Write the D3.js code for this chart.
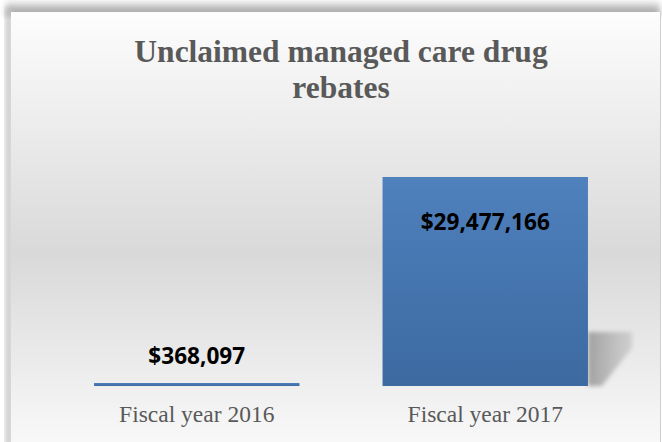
<!DOCTYPE html>
<html><head><meta charset="utf-8">
<script src="https://cdn.jsdelivr.net/npm/d3@7"></script>
<style>html,body{margin:0;padding:0;background:#fff;overflow:hidden}</style>
</head><body>
<script>
const categories = ["Fiscal year 2016", "Fiscal year 2017"];
const values = [368097, 29477166];
const valueLabels = ["$368,097", "$29,477,166"];
const titleLines = ["Unclaimed managed care drug", "rebates"];

const W = 662, H = 442;
const svg = d3.select("body").append("svg").attr("width", W).attr("height", H);
const defs = svg.append("defs");

const bg = defs.append("linearGradient").attr("id","bg").attr("x1",0).attr("y1",0).attr("x2",0).attr("y2",1);
bg.append("stop").attr("offset","0%").attr("stop-color","#fdfdfd");
bg.append("stop").attr("offset","55%").attr("stop-color","#d9d9d9");
bg.append("stop").attr("offset","100%").attr("stop-color","#fafafa");

const topSh = defs.append("linearGradient").attr("id","topsh").attr("x1",0).attr("y1",0).attr("x2",0).attr("y2",1);
topSh.append("stop").attr("offset","0%").attr("stop-color","#e6e6e6");
topSh.append("stop").attr("offset","100%").attr("stop-color","#8c8c8c");

const barG = defs.append("linearGradient").attr("id","barg").attr("x1",0).attr("y1",0).attr("x2",0).attr("y2",1);
barG.append("stop").attr("offset","0%").attr("stop-color","#4f81bd");
barG.append("stop").attr("offset","100%").attr("stop-color","#3c69a0");

const shG = defs.append("linearGradient").attr("id","shg").attr("x1",0).attr("y1",0).attr("x2",1).attr("y2",0);
shG.append("stop").attr("offset","0%").attr("stop-color","#999999").attr("stop-opacity",0.9);
shG.append("stop").attr("offset","100%").attr("stop-color","#b5b5b5").attr("stop-opacity",0.5);

const blur = defs.append("filter").attr("id","blur").attr("x","-20%").attr("y","-20%").attr("width","140%").attr("height","140%");
blur.append("feGaussianBlur").attr("stdDeviation",3);
const blur2 = defs.append("filter").attr("id","blur2").attr("x","-30%").attr("y","-30%").attr("width","160%").attr("height","160%");
blur2.append("feGaussianBlur").attr("stdDeviation",2);

// outer panel shadow and panel
svg.append("rect").attr("x",0).attr("y",0).attr("width",W).attr("height",H).attr("fill","#fff");
svg.append("rect").attr("x",6).attr("y",2).attr("width",654).attr("height",14).attr("fill","url(#topsh)").attr("filter","url(#blur)");
svg.append("rect").attr("x",6).attr("y",8).attr("width",6).attr("height",440).attr("fill","#bdbdbd").attr("filter","url(#blur)");
svg.append("rect").attr("x",11).attr("y",12).attr("width",649).attr("height",440).attr("fill","url(#bg)");
svg.append("line").attr("x1",660.5).attr("x2",660.5).attr("y1",12).attr("y2",H).attr("stroke","#cfcfcf");

// title
svg.append("text").attr("x",341).attr("text-anchor","middle")
  .attr("font-family","'Liberation Serif','Times New Roman',serif").attr("font-weight","bold")
  .attr("font-size",31.5).attr("fill","#595959")
  .selectAll("tspan").data(titleLines).join("tspan")
  .attr("x",341).attr("y",(d,i)=>62+i*36).text(d=>d);

const x = d3.scaleBand().domain(categories).range([52.5,629.5]).paddingInner(0.288).paddingOuter(0.144);
const y = d3.scaleLinear().domain([0, values[1]]).range([386,177]);

const data = categories.map((c,i)=>({c, v:values[i], label:valueLabels[i]}));

// shadow next to tall bars
svg.append("g").selectAll("path").data(data.filter(d=>y(0)-y(d.v)>60)).join("path")
  .attr("d", d=>{
    const x1 = x(d.c)+x.bandwidth(), top = y(0)-54;
    return `M${x1},${top} L${x1+44},${top} L${x1+44},${y(0)-38} L${x1+14},${y(0)} L${x1},${y(0)} Z`;
  })
  .attr("fill","url(#shg)").attr("filter","url(#blur2)");

svg.append("g").selectAll("rect").data(data).join("rect")
  .attr("x", d=>x(d.c)).attr("width", x.bandwidth())
  .attr("y", d=>Math.min(y(d.v), y(0)-3)).attr("height", d=>Math.max(y(0)-y(d.v),3))
  .attr("fill","url(#barg)");

// value labels
svg.append("g").selectAll("text").data(data).join("text")
  .attr("x", d=>x(d.c)+x.bandwidth()/2)
  .attr("y", (d,i)=> i===0 ? y(d.v)-19 : y(d.v)+53)
  .attr("text-anchor","middle")
  .attr("font-family","'Open Sans','Liberation Sans',sans-serif").attr("font-weight","bold")
  .attr("font-size",22.6).attr("fill","#000").text(d=>d.label);

// category axis labels
const axis = d3.axisBottom(x).tickSize(0).tickPadding(0);
const ag = svg.append("g").attr("transform",`translate(0,${y(0)})`).call(axis);
ag.select(".domain").remove();
ag.selectAll("text").attr("dy",null).attr("y",36).attr("font-family","'Liberation Serif','Times New Roman',serif")
  .attr("font-size",23.5).attr("fill","#595959");
</script>
</body></html>
